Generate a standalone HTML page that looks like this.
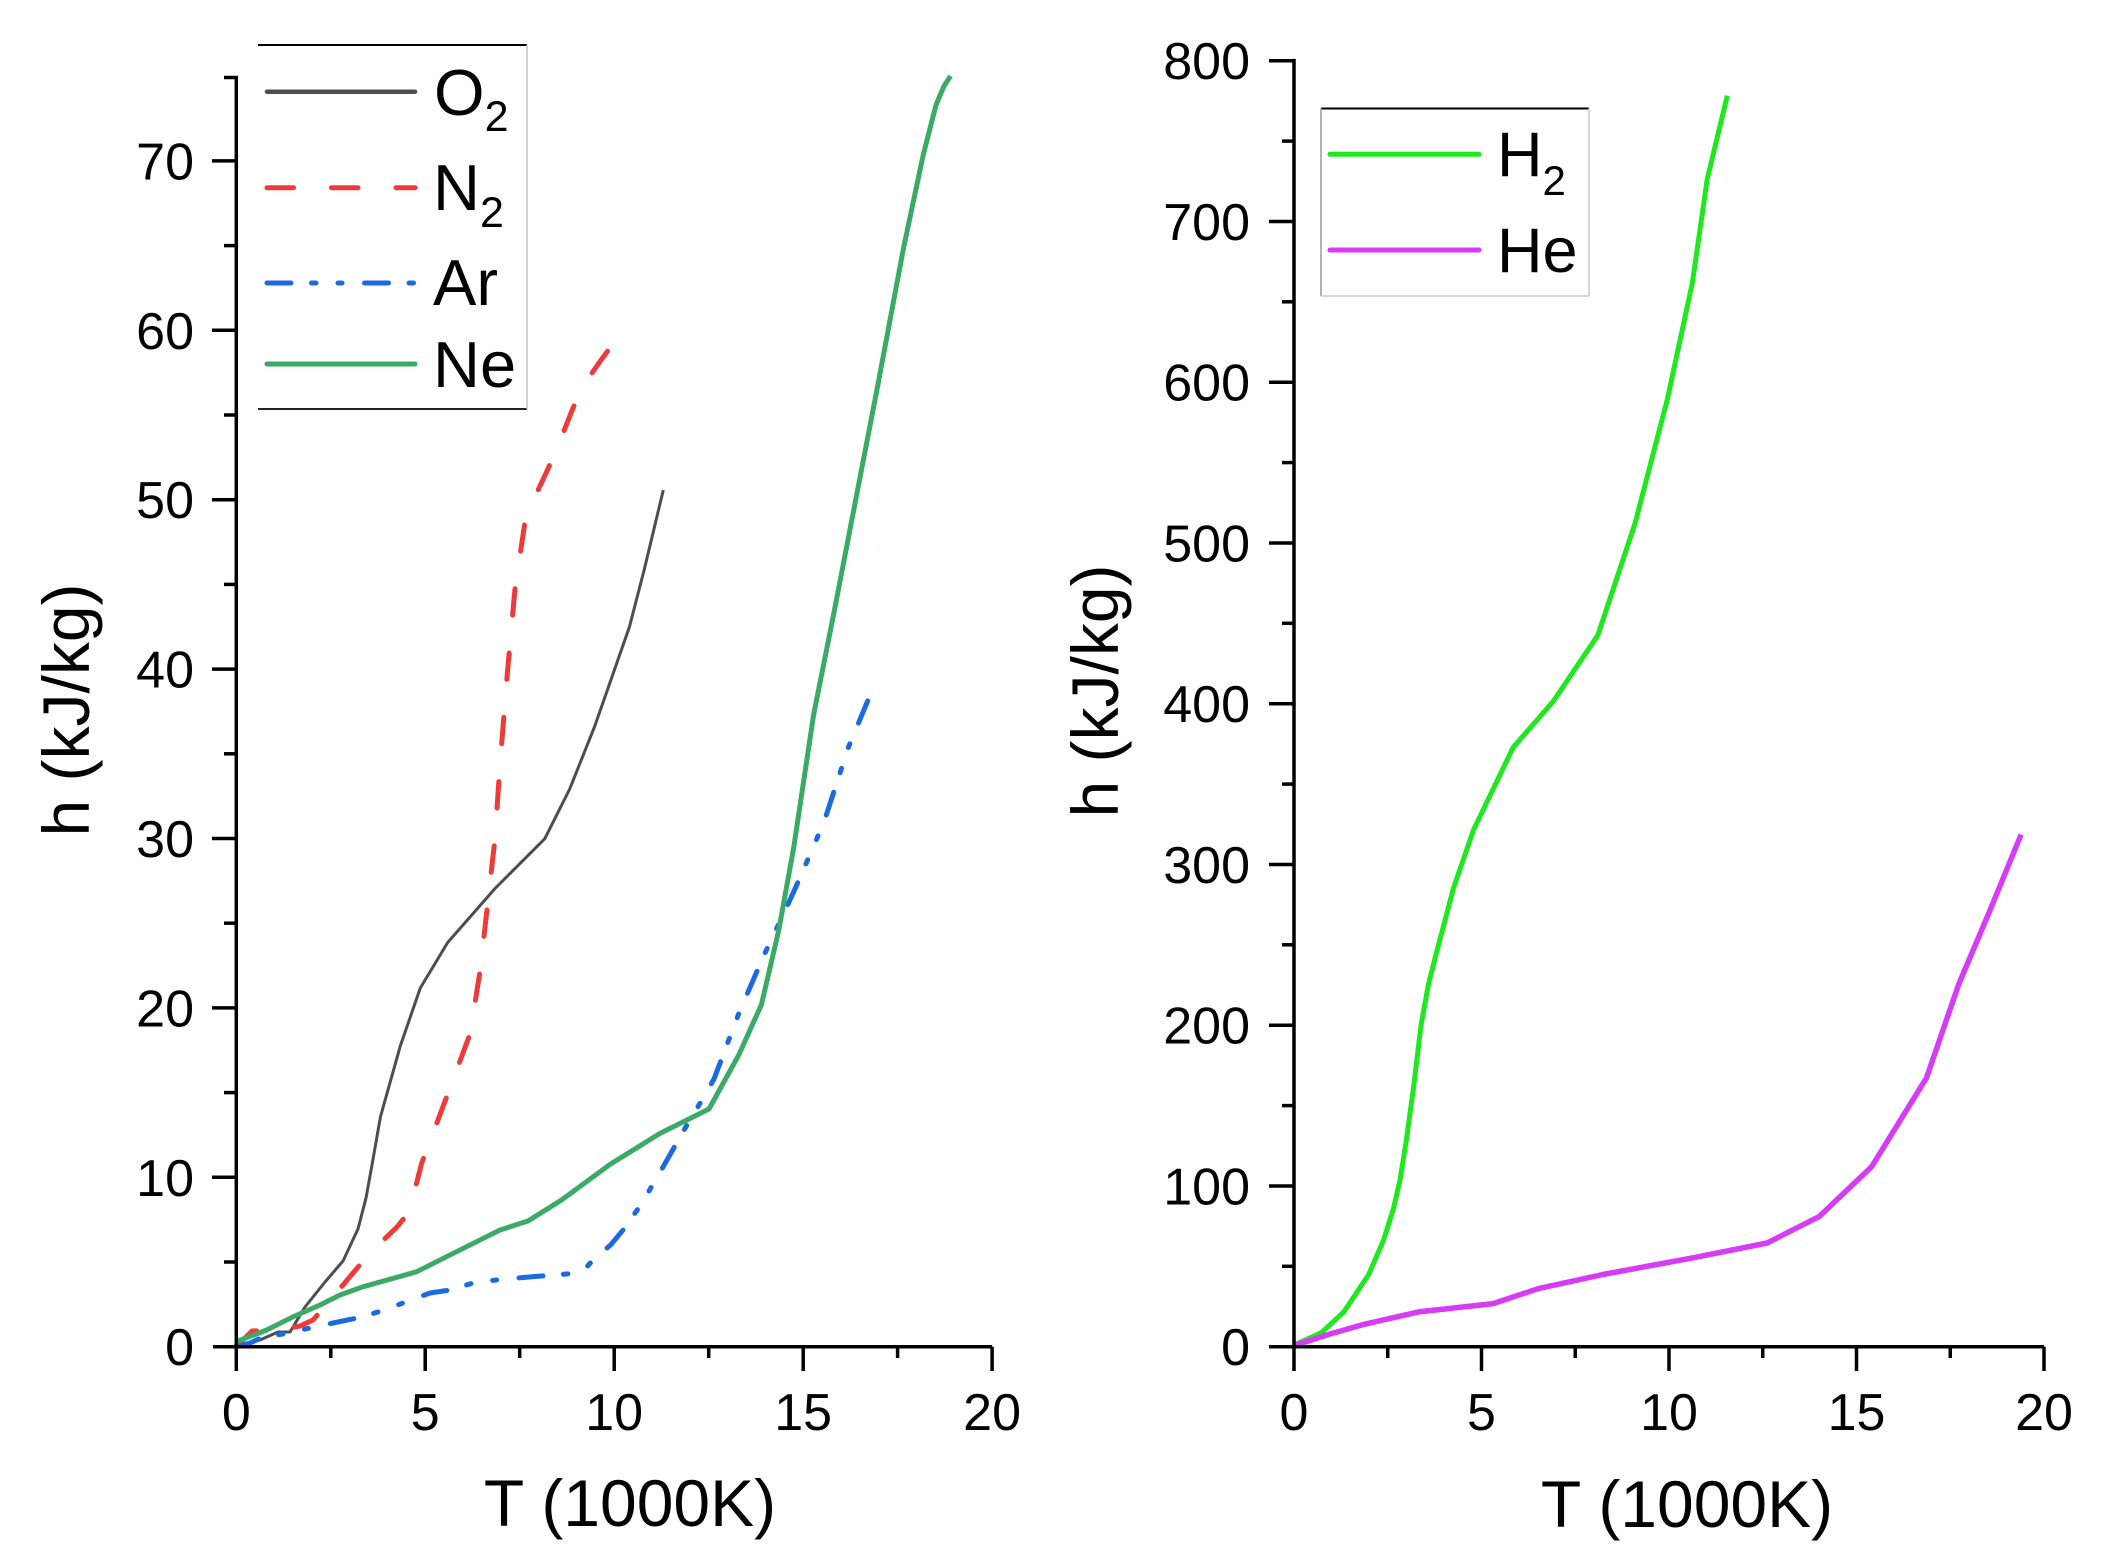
<!DOCTYPE html>
<html>
<head>
<meta charset="utf-8">
<style>
  html, body { margin: 0; padding: 0; background: #ffffff; }
  svg { display: block; }
  text { font-family: "Liberation Sans", Arial, sans-serif; fill: #000; }
</style>
</head>
<body>
<svg xmlns="http://www.w3.org/2000/svg" width="2106" height="1566" viewBox="0 0 2106 1566">
  <rect x="0" y="0" width="2106" height="1566" fill="#ffffff"/>

  <!-- ================= LEFT CHART ================= -->
  <g fill="none" stroke-linejoin="round">
    <!-- O2 -->
    <polyline stroke="#4d4d4d" stroke-width="3" points="236,1346 260,1340 278,1332 290,1332 305,1307 325,1282 343,1261 358,1229 366,1198 372,1165 380.4,1117 400.3,1046 420.3,988 447.7,942.5 495,888.5 544.8,838.7 569.7,789 594.6,726.6 629.4,627 644.4,569 663.3,490"/>
    <!-- N2 -->
    <polyline stroke="#f03a3a" stroke-width="5" stroke-linecap="round" stroke-dasharray="26.5 38" points="236,1346 245,1338 252,1331 280,1330 300,1326 313,1320 328,1303 353,1273 370,1253 397,1227 405,1217 413,1197 421.7,1163 425.2,1154 450,1088 470,1034 480,971.5 487.5,905 495,838.7 500,764 507.4,672.7 514.9,589.6 524.8,523 532,503 547,471 558.5,445 570.6,414 581,389 601,360 620.5,334"/>
    <!-- Ar -->
    <polyline stroke="#1d6ae0" stroke-width="5" stroke-linecap="round" stroke-dasharray="24 20.5 4.5 22 4 22.5" points="236,1346.7 250,1343 263,1337 283,1334 310,1328 333,1323 357,1318 378,1312 403,1303 430,1293 450,1290 473,1283 500,1279.5 535,1276.5 572,1273.5 585,1269 593,1260 610.6,1245 624.7,1228 642,1203 663,1167 684,1130 702,1100 714,1079 739,1013 764,955 784,913 799,880 824,822 848.5,747 871,693"/>
    <!-- Ne -->
    <polyline stroke="#3aaa66" stroke-width="5" points="236.3,1341.7 266.7,1330 293.3,1316.7 320,1305 340,1295 363.3,1286.7 393.3,1278.3 416.7,1271.7 443.3,1258.3 473.3,1243.3 500,1230 528,1221 561.5,1200 610.6,1164 659.8,1133.5 709,1109 739,1054.5 761.4,1004.7 778.8,930 793.8,847 813.7,714.2 833.6,614.5 856,498.3 878.4,382.1 903.3,249.2 923.2,155 936,105 944,86 950.6,76"/>
  </g>

  <!-- axes -->
  <g stroke="#000" stroke-width="3.5" fill="none">
    <line x1="236.3" y1="76" x2="236.3" y2="1348.5"/>
    <line x1="213" y1="1346.7" x2="992.1" y2="1346.7"/>
    <line x1="212" y1="1177.3" x2="236" y2="1177.3"/>
    <line x1="212" y1="1007.9" x2="236" y2="1007.9"/>
    <line x1="212" y1="838.5" x2="236" y2="838.5"/>
    <line x1="212" y1="669.1" x2="236" y2="669.1"/>
    <line x1="212" y1="499.7" x2="236" y2="499.7"/>
    <line x1="212" y1="330.3" x2="236" y2="330.3"/>
    <line x1="212" y1="160.9" x2="236" y2="160.9"/>
    <line x1="224" y1="1262" x2="236" y2="1262"/>
    <line x1="224" y1="1092.6" x2="236" y2="1092.6"/>
    <line x1="224" y1="923.2" x2="236" y2="923.2"/>
    <line x1="224" y1="753.8" x2="236" y2="753.8"/>
    <line x1="224" y1="584.4" x2="236" y2="584.4"/>
    <line x1="224" y1="415" x2="236" y2="415"/>
    <line x1="224" y1="245.6" x2="236" y2="245.6"/>
    <line x1="224" y1="77.5" x2="238" y2="77.5"/>
    <line x1="236.3" y1="1346.7" x2="236.3" y2="1371"/>
    <line x1="425.2" y1="1346.7" x2="425.2" y2="1371"/>
    <line x1="614.2" y1="1346.7" x2="614.2" y2="1371"/>
    <line x1="803.2" y1="1346.7" x2="803.2" y2="1371"/>
    <line x1="992.1" y1="1346.7" x2="992.1" y2="1371"/>
    <line x1="330.8" y1="1346.7" x2="330.8" y2="1358"/>
    <line x1="519.7" y1="1346.7" x2="519.7" y2="1358"/>
    <line x1="708.7" y1="1346.7" x2="708.7" y2="1358"/>
    <line x1="897.6" y1="1346.7" x2="897.6" y2="1358"/>
  </g>

  <g font-size="52" text-anchor="end">
    <text x="194" y="1365">0</text>
    <text x="194" y="1195.8">10</text>
    <text x="194" y="1026.4">20</text>
    <text x="194" y="857">30</text>
    <text x="194" y="687.6">40</text>
    <text x="194" y="518.2">50</text>
    <text x="194" y="348.8">60</text>
    <text x="194" y="179.4">70</text>
  </g>
  <g font-size="52" text-anchor="middle">
    <text x="236.3" y="1430">0</text>
    <text x="425.2" y="1430">5</text>
    <text x="614.2" y="1430">10</text>
    <text x="803.2" y="1430">15</text>
    <text x="992.1" y="1430">20</text>
  </g>
  <text x="630" y="1526" font-size="66" text-anchor="middle">T (1000K)</text>
  <text transform="translate(89,710) rotate(-90)" font-size="66" text-anchor="middle">h (kJ/kg)</text>

  <!-- legend left -->
  <g>
    <rect x="258" y="45" width="269" height="364" fill="#ffffff" stroke="none"/>
    <line x1="258" y1="45" x2="527" y2="45" stroke="#000" stroke-width="2"/>
    <line x1="258" y1="409" x2="527" y2="409" stroke="#222" stroke-width="2"/>
    <line x1="527" y1="45" x2="527" y2="409" stroke="#c4c4c4" stroke-width="1.5"/>
    <line x1="267" y1="91.7" x2="415" y2="91.7" stroke="#4d4d4d" stroke-width="4.5" stroke-linecap="round"/>
    <line x1="267" y1="187.7" x2="415" y2="187.7" stroke="#f03a3a" stroke-width="5" stroke-linecap="round" stroke-dasharray="26.5 38"/>
    <line x1="267" y1="283" x2="415" y2="283" stroke="#1d6ae0" stroke-width="5" stroke-linecap="round" stroke-dasharray="24 20.5 4.5 22 4 22.5"/>
    <line x1="267" y1="364" x2="415" y2="364" stroke="#3aaa66" stroke-width="5" stroke-linecap="round"/>
    <text x="434" y="115" font-size="65">O<tspan font-size="43" dy="16">2</tspan></text>
    <text x="433" y="210" font-size="65">N<tspan font-size="43" dy="17">2</tspan></text>
    <text x="433" y="305" font-size="65">Ar</text>
    <text x="433" y="387" font-size="65">Ne</text>
  </g>

  <!-- ================= RIGHT CHART ================= -->
  <g fill="none" stroke-linejoin="round">
    <polyline stroke="#1ee81e" stroke-width="5" points="1294,1345.1 1321.4,1332.7 1343.8,1311.9 1368.7,1274.5 1383.6,1240 1393.6,1208.1 1400,1180 1406.1,1141.7 1413.5,1087.8 1421,1025.5 1428.5,984 1435.9,954.9 1453.4,888.5 1473.3,830.4 1513.1,747.4 1553,701.7 1597.8,635.3 1635.1,523.2 1667.5,398.7 1692.4,282.5 1707.3,178.7 1727.3,95.7"/>
    <polyline stroke="#d63cf7" stroke-width="5.5" points="1294,1345.6 1330,1334 1363.7,1324.4 1418.5,1311.9 1493.2,1303.6 1510,1298 1538,1288.7 1602.8,1274.5 1692.4,1257.9 1767.1,1243 1819.4,1216.4 1871.7,1166.6 1926.5,1077.8 1958.8,984 1988.7,913.4 2021.1,834.5"/>
  </g>

  <g stroke="#000" stroke-width="3.5" fill="none">
    <line x1="1294" y1="58.9" x2="1294" y2="1348.5"/>
    <line x1="1269" y1="1346.7" x2="2044" y2="1346.7"/>
    <line x1="1269" y1="1185.95" x2="1294" y2="1185.95"/>
    <line x1="1269" y1="1025.2" x2="1294" y2="1025.2"/>
    <line x1="1269" y1="864.45" x2="1294" y2="864.45"/>
    <line x1="1269" y1="703.7" x2="1294" y2="703.7"/>
    <line x1="1269" y1="542.95" x2="1294" y2="542.95"/>
    <line x1="1269" y1="382.2" x2="1294" y2="382.2"/>
    <line x1="1269" y1="221.45" x2="1294" y2="221.45"/>
    <line x1="1269" y1="60.7" x2="1295.5" y2="60.7"/>
    <line x1="1282" y1="1266.3" x2="1294" y2="1266.3"/>
    <line x1="1282" y1="1105.6" x2="1294" y2="1105.6"/>
    <line x1="1282" y1="944.8" x2="1294" y2="944.8"/>
    <line x1="1282" y1="784.1" x2="1294" y2="784.1"/>
    <line x1="1282" y1="623.3" x2="1294" y2="623.3"/>
    <line x1="1282" y1="462.6" x2="1294" y2="462.6"/>
    <line x1="1282" y1="301.8" x2="1294" y2="301.8"/>
    <line x1="1282" y1="141.1" x2="1294" y2="141.1"/>
    <line x1="1294" y1="1346.7" x2="1294" y2="1371"/>
    <line x1="1481.5" y1="1346.7" x2="1481.5" y2="1371"/>
    <line x1="1669" y1="1346.7" x2="1669" y2="1371"/>
    <line x1="1856.5" y1="1346.7" x2="1856.5" y2="1371"/>
    <line x1="2044" y1="1346.7" x2="2044" y2="1371"/>
    <line x1="1387.75" y1="1346.7" x2="1387.75" y2="1358"/>
    <line x1="1575.25" y1="1346.7" x2="1575.25" y2="1358"/>
    <line x1="1762.75" y1="1346.7" x2="1762.75" y2="1358"/>
    <line x1="1950.25" y1="1346.7" x2="1950.25" y2="1358"/>
  </g>

  <g font-size="52" text-anchor="end">
    <text x="1250" y="1365">0</text>
    <text x="1250" y="1204.5">100</text>
    <text x="1250" y="1043.7">200</text>
    <text x="1250" y="883">300</text>
    <text x="1250" y="722.2">400</text>
    <text x="1250" y="561.5">500</text>
    <text x="1250" y="400.7">600</text>
    <text x="1250" y="240">700</text>
    <text x="1250" y="79.2">800</text>
  </g>
  <g font-size="52" text-anchor="middle">
    <text x="1294" y="1430">0</text>
    <text x="1481.5" y="1430">5</text>
    <text x="1669" y="1430">10</text>
    <text x="1856.5" y="1430">15</text>
    <text x="2044" y="1430">20</text>
  </g>
  <text x="1687" y="1527" font-size="66" text-anchor="middle">T (1000K)</text>
  <text transform="translate(1118,691) rotate(-90)" font-size="66" text-anchor="middle">h (kJ/kg)</text>

  <!-- legend right -->
  <g>
    <rect x="1321" y="108" width="268" height="188" fill="#ffffff" stroke="none"/>
    <line x1="1321" y1="108.5" x2="1589" y2="108.5" stroke="#000" stroke-width="2"/>
    <line x1="1321" y1="108" x2="1321" y2="296" stroke="#9a9a9a" stroke-width="1.5"/>
    <line x1="1589" y1="108" x2="1589" y2="296" stroke="#c8c8c8" stroke-width="1.5"/>
    <line x1="1321" y1="296" x2="1589" y2="296" stroke="#c8c8c8" stroke-width="1.5"/>
    <line x1="1330" y1="154.3" x2="1479" y2="154.3" stroke="#1ee81e" stroke-width="5" stroke-linecap="round"/>
    <line x1="1330" y1="250" x2="1479" y2="250" stroke="#d63cf7" stroke-width="5" stroke-linecap="round"/>
    <text x="1497" y="176" font-size="63">H<tspan font-size="42" dy="19">2</tspan></text>
    <text x="1497" y="272" font-size="63">He</text>
  </g>
</svg>
</body>
</html>
